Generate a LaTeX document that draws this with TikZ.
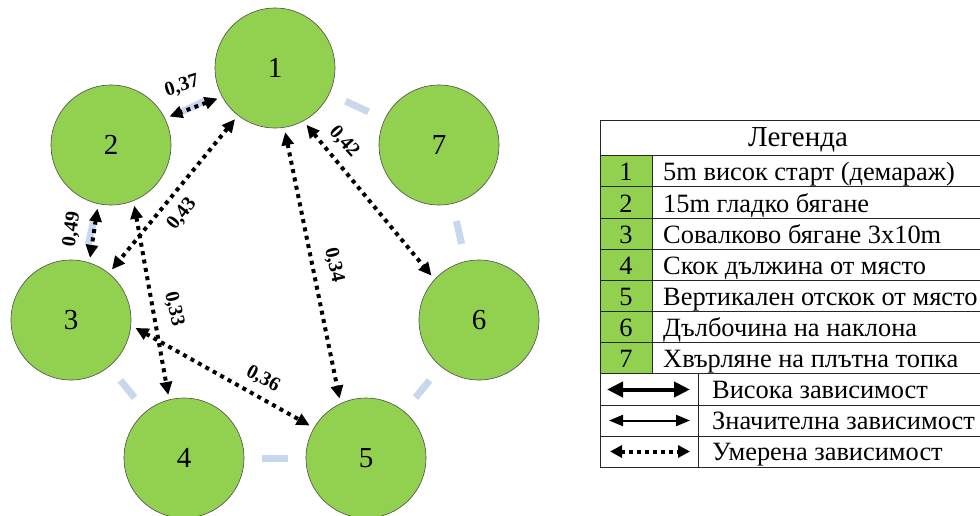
\documentclass[tikz,border=0pt]{standalone}
\usepackage{fontspec}
\setmainfont{Liberation Serif}
\usetikzlibrary{arrows.meta}
\definecolor{nodegreen}{HTML}{92D050}
\definecolor{ringblue}{HTML}{C8D8EC}
\begin{document}
\begin{tikzpicture}[x=1pt,y=-1pt,
  circ/.style={circle, draw=black!70, line width=0.6pt, fill=nodegreen, minimum size=120pt, inner sep=0pt, outer sep=5pt, font=\fontsize{29}{29}\selectfont},
  ring/.style={ringblue, line width=7pt, shorten <=13pt, shorten >=13pt},
  dep/.style={line width=4pt, dash pattern=on 4pt off 4.5pt, {Triangle[length=13pt,width=12pt]}-{Triangle[length=13pt,width=12pt]}},
  lbl/.style={font=\bfseries\fontsize{20}{20}\selectfont, inner sep=1pt},
  legtxt/.style={font=\fontsize{26.4}{26.4}\selectfont, inner sep=0pt, anchor=base west},
  legnum/.style={font=\fontsize{26.4}{26.4}\selectfont, inner sep=0pt, anchor=base},
  tline/.style={line width=0.9pt, black!85}
]
\useasboundingbox (0,0) rectangle (980,515);

% circles
\node[circ] (c1) at (275,68) {1};
\node[circ] (c2) at (111,145) {2};
\node[circ] (c3) at (71,320) {3};
\node[circ] (c4) at (184,458) {4};
\node[circ] (c5) at (366,458) {5};
\node[circ] (c6) at (479,320) {6};
\node[circ] (c7) at (439,145) {7};

% pale ring
\draw[ring] (c1) -- (c2);
\draw[ring] (c2) -- (c3);
\draw[ring] (c3) -- (c4);
\draw[ring] (c4) -- (c5);
\draw[ring] (c5) -- (c6);
\draw[ring] (c6) -- (c7);
\draw[ring] (c7) -- (c1);

% dependencies
\draw[dep] (c1.208.7) -- (c2.26.6);
\draw[dep] (c2.258) -- (c3.73);
\draw[dep] (c1.232) -- (c3.51);
\draw[dep] (c2.291) -- (c4.104);
\draw[dep] (c1.279) -- (c5.114);
\draw[dep] (c1.299) -- (c6.137);
\draw[dep] (c3.-7) -- (c5.150);

% labels
\node[lbl, rotate=17] (l12) at (182,86) {0,37};
\node[lbl, rotate=82] (l23) at (72,229) {0,49};
\node[lbl, rotate=52] (l13) at (182,214) {0,43};
\node[lbl, rotate=-77] (l24) at (174,309) {0,33};
\node[lbl, rotate=-77] (l15) at (334,265) {0,34};
\node[lbl, rotate=-48] (l16) at (344,142) {0,42};
\node[lbl, rotate=-28] (l35) at (263,379) {0,36};

% legend table
\fill[nodegreen] (600,155) rectangle (652,373.5);
\foreach \yy in {120,155,186.5,218,249.5,280.5,311.5,342.5,373.5,405,436,467}
  \draw[tline] (600,\yy) -- (990,\yy);
\draw[tline] (600,120) -- (600,467);
\draw[tline] (652,155) -- (652,373.5);
\draw[tline] (698,373.5) -- (698,467);

\node[font=\fontsize{29}{29}\selectfont, inner sep=0pt, anchor=base] (hdr) at (798,146.5) {Легенда};

\node[legnum] (n1) at (626,180.5) {1};
\node[legnum] (n2) at (626,212) {2};
\node[legnum] (n3) at (626,243.5) {3};
\node[legnum] (n4) at (626,274.5) {4};
\node[legnum] (n5) at (626,305.5) {5};
\node[legnum] (n6) at (626,336.5) {6};
\node[legnum] (n7) at (626,367.5) {7};

\node[legtxt] (t1) at (663,180.5) {5m висок старт (демараж)};
\node[legtxt] (t2) at (663,212) {15m гладко бягане};
\node[legtxt] (t3) at (663,243.5) {Совалково бягане 3x10m};
\node[legtxt] (t4) at (663,274.5) {Скок дължина от място};
\node[legtxt] (t5) at (663,305.5) {Вертикален отскок от място};
\node[legtxt] (t6) at (663,336.5) {Дълбочина на наклона};
\node[legtxt] (t7) at (663,367.5) {Хвърляне на плътна топка};

\node[legtxt] (t8) at (712,398.5) {Висока зависимост};
\node[legtxt] (t9) at (712,429.5) {Значителна зависимост};
\node[legtxt] (t10) at (712,460.5) {Умерена зависимост};

\coordinate (a8l) at (607,389.5);
\coordinate (a8r) at (690,389.5);
\coordinate (a9l) at (609,420.5);
\coordinate (a9r) at (690,420.5);
\coordinate (a10l) at (610,451.5);
\coordinate (a10r) at (690,451.5);
\draw[line width=4pt, {Triangle[length=16pt,width=15pt]}-{Triangle[length=16pt,width=15pt]}] (a8l) -- (a8r);
\draw[line width=2pt, {Triangle[length=14pt,width=11pt]}-{Triangle[length=14pt,width=11pt]}] (a9l) -- (a9r);
\draw[line width=4pt, dash pattern=on 4pt off 4pt, {Triangle[length=12pt,width=12pt]}-{Triangle[length=12pt,width=12pt]}] (a10l) -- (a10r);
\end{tikzpicture}
\end{document}
